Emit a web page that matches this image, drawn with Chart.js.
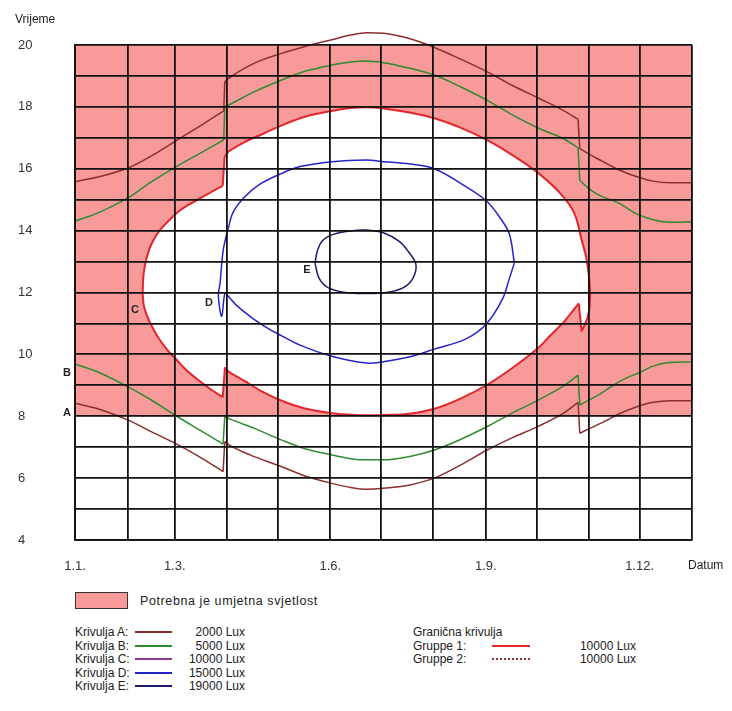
<!DOCTYPE html>
<html>
<head>
<meta charset="utf-8">
<title>Potrebna umjetna svjetlost</title>
<script src="https://cdn.jsdelivr.net/npm/chart.js@4.4.1/dist/chart.umd.min.js"></script>
<style>
  body { margin: 0; background: #fff; font-family: "Liberation Sans", Arial, sans-serif; color: #222; }
  #wrap { position: relative; width: 732px; height: 711px; }
  #chartBox { position: absolute; left: 0; top: 0; width: 732px; height: 580px; }
  .lg { position: absolute; font-size: 12px; line-height: 14px; white-space: nowrap; }
  .sw { position: absolute; height: 0; border-top: 2px solid; }
</style>
</head>
<body>
<div id="wrap">
  <div id="chartBox"><canvas id="lightChart"></canvas></div>
  <div id="legend"></div>
</div>
<script>
// x = dan u godini (0 = 1.1., 365 = 31.12.), y = vrijeme u satima
const monthStarts = [0, 31, 59, 90, 120, 151, 181, 212, 243, 273, 304, 334, 365];
const monthLabels = { 0: '1.1.', 59: '1.3.', 151: '1.6.', 243: '1.9.', 334: '1.12.' };
const hourMin = 4;
const hourMax = 20;
const darkFrom = 8;   // donja granica područja s umjetnom svjetlošću

// Krivulja A (2000 Lux) - večer i jutro, po dijelovima između pomaka sata
const aEvening1 = [[0, 15.58], [14.8, 15.75], [32.5, 16.05], [44.4, 16.39], [60.2, 16.92], [73.9, 17.38], [88.0, 17.87]];
const aEvening2 = [[88.6, 18.81], [90.9, 18.92], [106.5, 19.42], [122.3, 19.73], [136, 19.95], [151.9, 20.17], [163, 20.32],
  [172.2, 20.4], [182.4, 20.38], [198.2, 20.2], [212.6, 19.92], [227.8, 19.55], [243.6, 19.14], [258.5, 18.7],
  [274.3, 18.28], [289, 17.88], [297.6, 17.6]];
const aEvening3 = [[298.6, 16.65], [310, 16.3], [322, 15.96], [332, 15.75], [342, 15.6], [352, 15.55], [365, 15.55]];
const aMorning1 = [[0, 8.42], [14.8, 8.22], [32.5, 7.85], [44.4, 7.52], [60.2, 7.1], [73.9, 6.68], [87.6, 6.21]];
const aMorning2 = [[88.6, 7.18], [90.9, 7.08], [103.5, 6.75], [122.3, 6.37], [136, 6.07], [151.9, 5.83], [163, 5.7],
  [172.2, 5.64], [182.4, 5.67], [198, 5.78], [212.6, 6.0], [228, 6.42], [243.6, 6.9], [258.5, 7.3], [274.3, 7.68],
  [289, 8.1], [297.6, 8.45]];
const aMorning3 = [[298.6, 7.45], [304.2, 7.6], [314, 7.85], [322, 8.08], [332, 8.3], [342, 8.45], [352, 8.5], [365, 8.5]];

// Krivulja B (5000 Lux)
const bEvening1 = [[0, 14.31], [14.8, 14.6], [32.5, 15.1], [44.4, 15.55], [60.2, 16.08], [73.9, 16.5], [88.0, 16.93]];
const bEvening2 = [[88.6, 18.0], [90.9, 18.06], [106.5, 18.5], [122.3, 18.87], [136, 19.15], [151.9, 19.35], [163, 19.45],
  [172.2, 19.48], [182.4, 19.43], [198, 19.25], [212.6, 19.03], [228, 18.65], [243.6, 18.22], [258.5, 17.75],
  [274.3, 17.31], [289, 16.97], [297.6, 16.68]];
const bEvening3 = [[298.6, 15.63], [304.2, 15.35], [310, 15.15], [322, 14.88], [332, 14.55], [342, 14.35], [352, 14.27], [365, 14.29]];
const bMorning1 = [[0, 9.69], [14.8, 9.4], [32.5, 8.92], [44.4, 8.55], [60.2, 8.0], [73.9, 7.55], [87.6, 7.1]];
const bMorning2 = [[88.6, 7.99], [90.9, 7.93], [106.5, 7.6], [122.3, 7.23], [136, 6.95], [151.9, 6.75], [163, 6.63],
  [172.2, 6.59], [182.4, 6.59], [198, 6.7], [212.6, 6.91], [228, 7.25], [243.6, 7.66], [258.5, 8.1], [274.3, 8.53],
  [289, 8.98], [297.6, 9.33]];
const bMorning3 = [[298.6, 8.36], [304.2, 8.53], [310, 8.7], [322, 9.12], [335, 9.44], [342, 9.62], [350, 9.73], [365, 9.76]];

// Krivulja C (10000 Lux) - obris zatvorene krivulje, od lijevog vrha u smjeru kazaljke
const cOutline1 = [[40.0, 11.97], [40.6, 12.6], [42.5, 13.15], [45.5, 13.6], [50, 14.0], [56, 14.35], [62, 14.65],
  [70, 14.92], [79, 15.2], [87.4, 15.45]];
const cOutline2 = [[88.5, 16.38], [90.7, 16.55], [100, 16.85], [110, 17.1], [122.3, 17.4], [136, 17.68], [151.9, 17.87],
  [163, 17.96], [172.2, 17.99], [182.4, 17.95], [198, 17.82], [212.6, 17.63], [228, 17.33], [243.6, 16.93],
  [258.5, 16.45], [274.3, 15.85], [288, 15.15], [295.5, 14.55], [299.7, 13.7], [302.7, 13.05], [304.6, 12.2],
  [304.5, 11.6], [303.3, 11.2], [299.7, 10.74]];
const cOutline3 = [[298.0, 11.65], [290, 11.1], [281, 10.6], [274.3, 10.22], [258.5, 9.55], [243.6, 9.01], [228, 8.57],
  [212.6, 8.24], [198, 8.08], [182.4, 8.04], [172.2, 8.03], [163, 8.05], [151.9, 8.1], [136, 8.25], [122.3, 8.5],
  [110, 8.82], [100, 9.15], [90.7, 9.45], [88.7, 9.58]];
const cOutline4 = [[87.4, 8.62], [80, 8.88], [73.9, 9.13], [66.1, 9.48], [60.2, 9.82], [55, 10.12], [50, 10.48],
  [46, 10.85], [43, 11.2], [40.8, 11.55], [40.0, 11.97]];

// Krivulja D (15000 Lux) - od desnog vrha preko gornjeg dijela
const dOutline = [[259.9, 12.95], [256.9, 13.9], [251, 14.45], [243.6, 14.95], [231.3, 15.42], [212.6, 16.0], [198.2, 16.15],
  [182.4, 16.23], [172.2, 16.28], [151.9, 16.23], [133.1, 16.07], [122.3, 15.85], [109.4, 15.5], [100.6, 15.1],
  [93.6, 14.6], [90.7, 14.08], [87.7, 13.38], [85.8, 12.3], [84.8, 11.88], [86.8, 11.23], [88.7, 11.98], [90.7, 11.88],
  [95.2, 11.6], [105.5, 11.15], [115.4, 10.8], [122.3, 10.6], [133.1, 10.3], [151.9, 9.94], [172.2, 9.72],
  [182.4, 9.76], [198.2, 9.92], [212.6, 10.17], [231.3, 10.5], [243.6, 11.0], [253, 11.8], [256.9, 12.44], [259.9, 12.95]];

// Krivulja E (19000 Lux)
const eOutline = [[142, 12.94], [143.4, 13.35], [146.5, 13.68], [152.8, 13.88], [162.7, 13.99], [172.2, 14.02], [182.4, 13.93],
  [191.8, 13.65], [197.5, 13.3], [201.7, 12.9], [199.8, 12.45], [194, 12.15], [184, 12.0], [172.2, 11.97], [160, 12.0],
  [150, 12.15], [144.5, 12.45], [142, 12.94]];

const legendNames = ['Krivulja A:', 'Krivulja B:', 'Krivulja C:', 'Krivulja D:', 'Krivulja E:'];
const legendLux = ['2000 Lux', '5000 Lux', '10000 Lux', '15000 Lux', '19000 Lux'];
const groupNames = ['Gruppe 1:', 'Gruppe 2:'];
const groupLux = ['10000 Lux', '10000 Lux'];

const PINK = 'rgb(249, 154, 154)';
const curveColors = ['#8b2f2f', '#2e8b2e', '#8e3a8e', '#2424c8', '#1c1c6b'];
const C_RED = '#e3262b';

function toPoints(arr) {
  return arr.map(p => ({ x: p[0], y: p[1] }));
}

// Spaja dijelove krivulje ravnim skokom (pomak sata), dijelovi ostaju glatki
function chain(pieces) {
  const pts = [];
  pieces.forEach((piece, k) => {
    if (k > 0) {
      const prev = pieces[k - 1][pieces[k - 1].length - 1];
      pts.push({ x: prev[0], y: null });
      pts.push({ x: prev[0], y: prev[1] }, { x: piece[0][0], y: piece[0][1] });
      pts.push({ x: piece[0][0], y: null });
    }
    piece.forEach(p => pts.push({ x: p[0], y: p[1] }));
  });
  return pts;
}

const rev = arr => arr.slice().reverse();

function curve(label, data, color, order, extra) {
  return Object.assign({
    label: label,
    data: data,
    borderColor: color,
    borderWidth: 1.5,
    pointRadius: 0,
    tension: 0.35,
    fill: false,
    order: order
  }, extra || {});
}

const datasets = [
  {
    label: 'Potrebna je umjetna svjetlost',
    data: [{ x: 0, y: hourMax }, { x: 365, y: hourMax }],
    borderWidth: 0,
    pointRadius: 0,
    backgroundColor: PINK,
    fill: { value: darkFrom },
    order: 10
  },
  {
    label: 'C fill',
    data: toPoints([].concat(cOutline1, cOutline2, cOutline3, cOutline4)),
    borderWidth: 0,
    pointRadius: 0,
    tension: 0,
    backgroundColor: '#ffffff',
    fill: 'shape',
    order: 9
  },
  curve('Krivulja C', chain([cOutline1, cOutline2, cOutline3, cOutline4]), C_RED, 5, { borderWidth: 2 }),
  curve('Krivulja B', chain([bEvening1, bEvening2, bEvening3, rev(bMorning3), rev(bMorning2), rev(bMorning1), [bEvening1[0]]]),
    curveColors[1], 4, { cubicInterpolationMode: 'monotone' }),
  curve('Krivulja A', chain([aEvening1, aEvening2, aEvening3, rev(aMorning3), rev(aMorning2), rev(aMorning1), [aEvening1[0]]]),
    curveColors[0], 3, { cubicInterpolationMode: 'monotone', clip: false }),
  curve('Krivulja D', toPoints(dOutline), curveColors[3], 2),
  curve('Krivulja E', toPoints(eOutline), curveColors[4], 1)
];

// Oznake krivulja i naslovi osi
const letterDays = [-4.7, -4.7, 35.5, 79.3, 137.2];
const letterHours = [8.1, 9.4, 11.43, 11.66, 12.73];

const textPlugin = {
  id: 'extraText',
  afterDraw(chart) {
    const { ctx, scales: { x, y } } = chart;
    ctx.save();
    ctx.fillStyle = '#222';
    ctx.textBaseline = 'middle';
    ctx.textAlign = 'left';
    ctx.font = '12px "Liberation Sans", Arial, sans-serif';
    ctx.fillText('Vrijeme', 15, 20);
    ctx.fillText('Datum', 688, 566);
    ctx.font = 'bold 11px "Liberation Sans", Arial, sans-serif';
    ctx.textAlign = 'center';
    ['A', 'B', 'C', 'D', 'E'].forEach((t, i) => {
      ctx.fillText(t, x.getPixelForValue(letterDays[i]), y.getPixelForValue(letterHours[i]));
    });
    ctx.restore();
  }
};

// mreža se crta preko ispune (z: 1)
const gridOpts = { color: '#111', lineWidth: 1.8, drawTicks: false, z: 1 };
const borderOpts = { color: '#111', width: 1.8, z: 1 };
const tickFont = { family: '"Liberation Sans", Arial, sans-serif', size: 13 };

new Chart(document.getElementById('lightChart'), {
  type: 'line',
  data: { datasets: datasets },
  options: {
    responsive: true,
    maintainAspectRatio: false,
    animation: false,
    layout: { padding: { left: 18, top: 45, right: 40, bottom: 0 } },
    plugins: {
      legend: { display: false },
      tooltip: { enabled: false }
    },
    scales: {
      x: {
        type: 'linear',
        min: 0,
        max: 365,
        grid: gridOpts,
        border: borderOpts,
        afterBuildTicks: scale => { scale.ticks = monthStarts.map(v => ({ value: v })); },
        afterFit: scale => { scale.height = 40; },
        ticks: {
          autoSkip: false,
          maxRotation: 0,
          padding: 19,
          color: '#333',
          font: tickFont,
          callback: v => monthLabels[v] || ''
        }
      },
      y: {
        type: 'linear',
        min: hourMin,
        max: hourMax,
        grid: gridOpts,
        border: borderOpts,
        afterFit: scale => { scale.width = 57; },
        ticks: {
          stepSize: 1,
          autoSkip: false,
          crossAlign: 'far',
          color: '#333',
          font: tickFont,
          callback: v => (v % 2 === 0 ? String(v) : '')
        }
      }
    }
  },
  plugins: [textPlugin]
});

// Legenda ispod grafa
const legend = document.getElementById('legend');
function add(html) { legend.insertAdjacentHTML('beforeend', html); }

add(`<div style="position:absolute;left:75px;top:592px;width:51px;height:15px;background:${PINK};border:1px solid #333"></div>`);
add(`<div class="lg" style="left:140px;top:594px;font-size:12.5px;letter-spacing:0.6px">Potrebna je umjetna svjetlost</div>`);

const rowTops = [625, 638.5, 652, 665.5, 679];
legendNames.forEach((name, i) => {
  add(`<div class="lg" style="left:75px;top:${rowTops[i]}px">${name}</div>`);
  add(`<div class="sw" style="left:135px;top:${rowTops[i] + 6}px;width:37px;border-color:${curveColors[i]}"></div>`);
  add(`<div class="lg" style="left:180px;top:${rowTops[i]}px;width:65px;text-align:right">${legendLux[i]}</div>`);
});

add(`<div class="lg" style="left:413px;top:${rowTops[0]}px">Granična krivulja</div>`);
groupNames.forEach((name, i) => {
  const top = rowTops[i + 1];
  const style = i === 0 ? `border-color:${C_RED}` : 'border-top-style:dotted;border-color:#8b2f2f';
  add(`<div class="lg" style="left:413px;top:${top}px">${name}</div>`);
  add(`<div class="sw" style="left:492px;top:${top + 6}px;width:38px;${style}"></div>`);
  add(`<div class="lg" style="left:566px;top:${top}px;width:70px;text-align:right">${groupLux[i]}</div>`);
});
</script>
</body>
</html>
